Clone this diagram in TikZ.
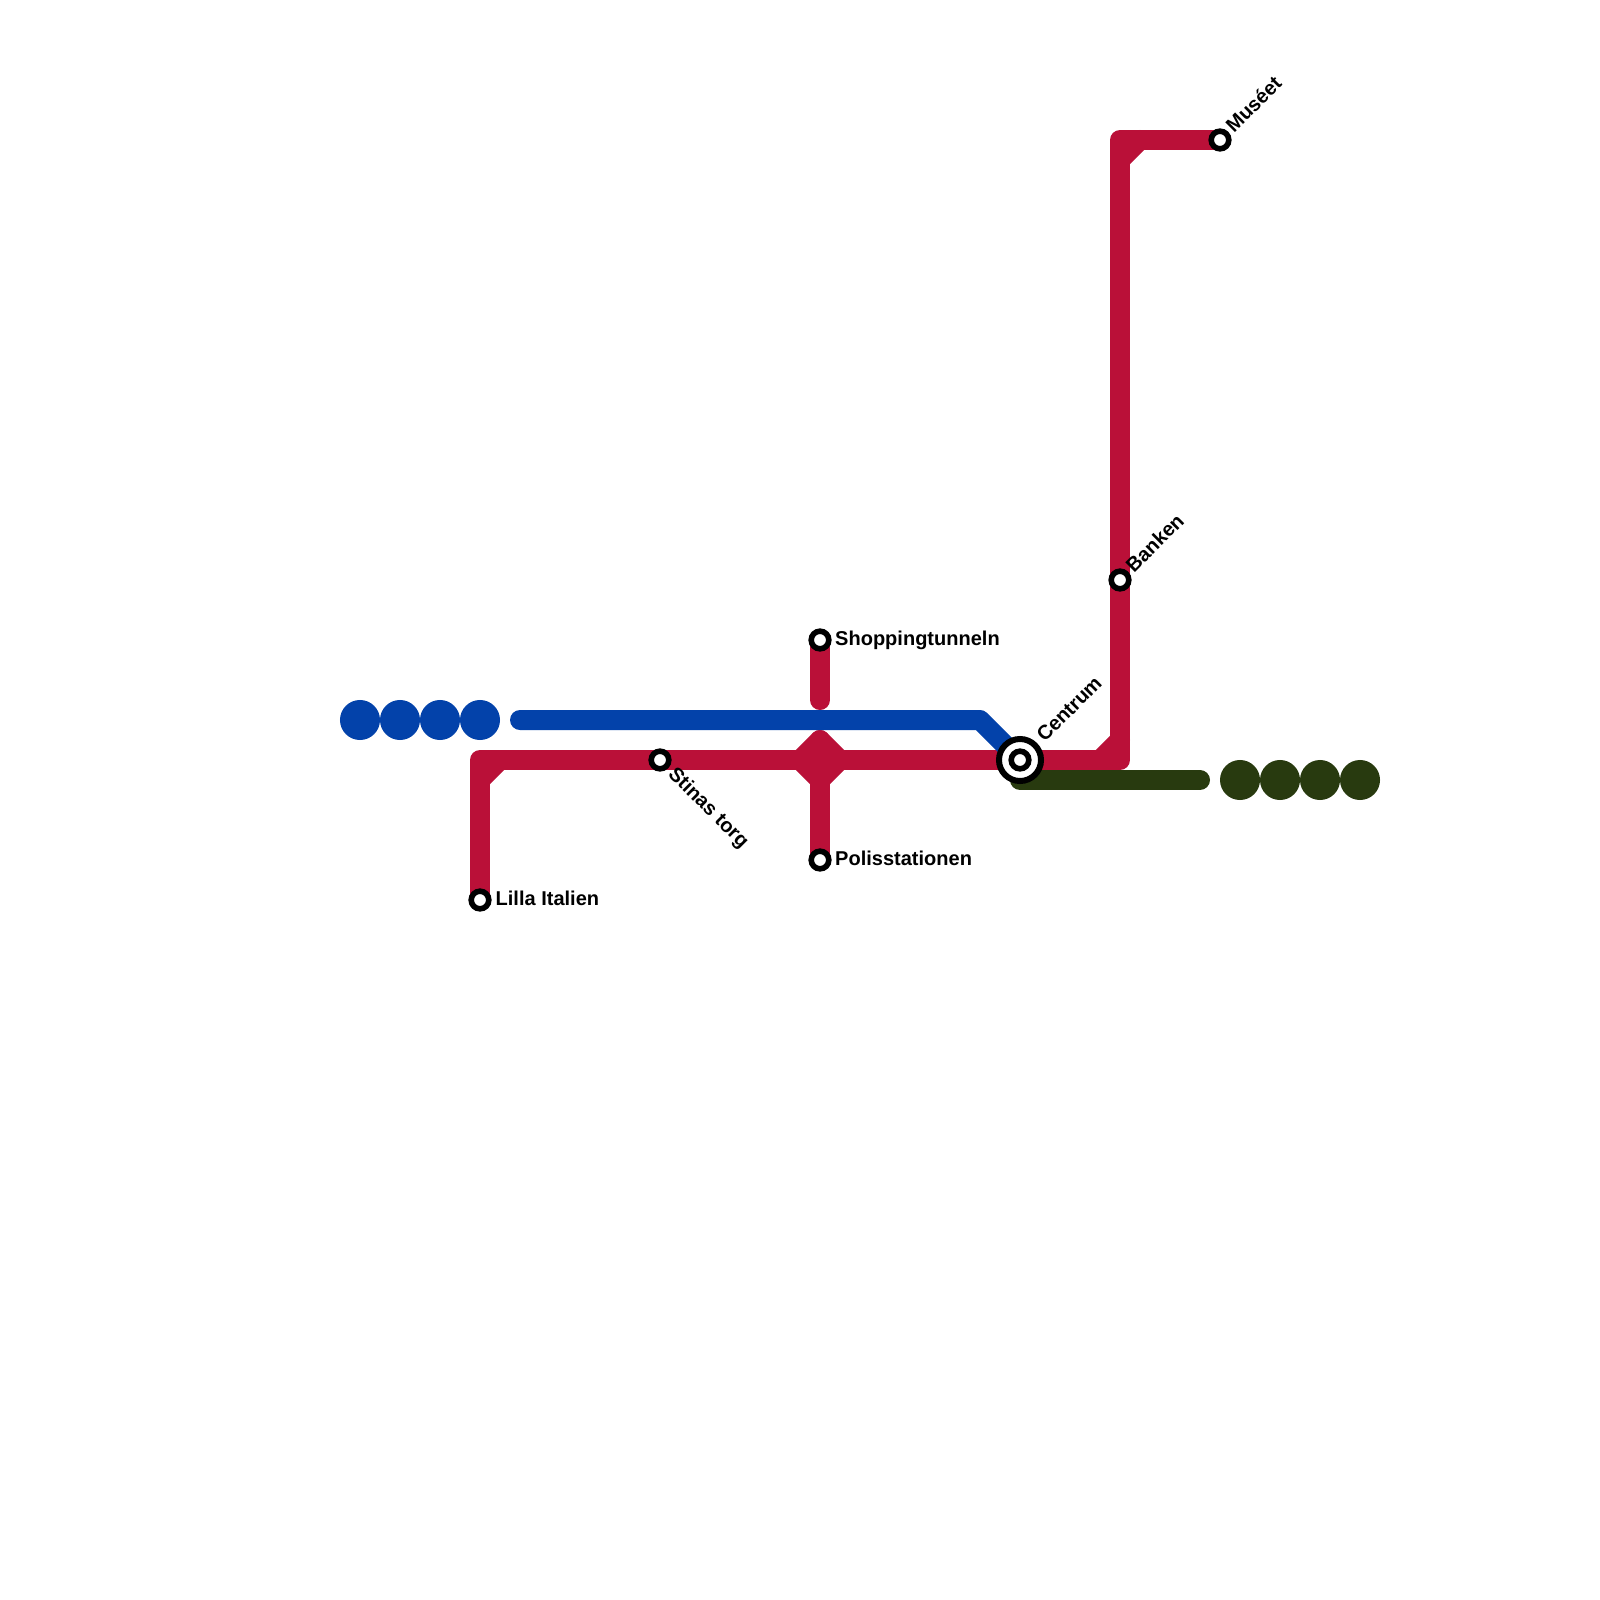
\documentclass[tikz,border=0pt]{standalone}
\usepackage{fontspec}
\setmainfont{Liberation Sans}
\usetikzlibrary{backgrounds}
\definecolor{lineRed}{RGB}{186,16,56}
\definecolor{lineBlue}{RGB}{3,66,170}
\definecolor{lineGreen}{RGB}{40,58,15}
\tikzset{
  metro/.style={line width=0.2cm, line cap=round, line join=round},
  station/.style={circle, draw=black, fill=white, line width=0.056cm, minimum size=0.176cm, inner sep=0pt},
  interchange/.style={circle, draw=black, fill=white, line width=0.06cm, minimum size=0.42cm, inner sep=0pt},
  linedot/.style={circle, minimum size=0.4cm, inner sep=0pt},
  stationlabel/.style={anchor=west, inner sep=0pt, font=\fontsize{5.69pt}{6pt}\selectfont\bfseries}
}
\begin{document}
\begin{tikzpicture}[x=0.01cm, y=-0.01cm]

\useasboundingbox (0,0) rectangle (1600,1600);

% Stations
\node[interchange] (centrum) at (1020,760) {};
\node[station] (centrumInner) at (1020,760) {};
\node[station] (lilla) at (480,900) {};
\node[station] (stinas) at (660,760) {};
\node[station] (shopping) at (820,640) {};
\node[station] (polis) at (820,860) {};
\node[station] (banken) at (1120,580) {};
\node[station] (museet) at (1220,140) {};

% Points de passage
\coordinate (cornerLilla) at (480,760);
\coordinate (cornerLillaA) at (480,780);
\coordinate (cornerLillaB) at (500,760);
\coordinate (tunnelEnd) at (820,700);
\coordinate (crossW) at (800,760);
\coordinate (crossN) at (820,740);
\coordinate (crossE) at (840,760);
\coordinate (crossS) at (820,780);
\coordinate (cornerBank) at (1120,760);
\coordinate (cornerBankA) at (1100,760);
\coordinate (cornerBankB) at (1120,740);
\coordinate (cornerTop) at (1120,140);
\coordinate (cornerTopA) at (1120,160);
\coordinate (cornerTopB) at (1140,140);
\coordinate (blueStart) at (520,720);
\coordinate (blueBend) at (980,720);
\coordinate (greenStart) at (1020,780);
\coordinate (greenEnd) at (1200,780);

% Lignes
\begin{scope}[on background layer]
\draw[metro, lineGreen] (greenStart) -- (greenEnd);
\draw[metro, lineRed] (lilla.center) -- (cornerLilla) -- (centrum.center) -- (cornerBank) -- (cornerTop) -- (museet.center);
\draw[metro, lineRed] (cornerLillaA) -- (cornerLillaB);
\draw[metro, lineRed] (cornerBankA) -- (cornerBankB);
\draw[metro, lineRed] (cornerTopA) -- (cornerTopB);
\draw[metro, lineRed] (shopping.center) -- (tunnelEnd);
\draw[metro, lineRed] (crossN) -- (polis.center);
\draw[metro, lineRed] (crossW) -- (crossN) -- (crossE) -- (crossS) -- cycle;
\draw[metro, lineBlue] (blueStart) -- (blueBend) -- (centrum.center);
\end{scope}

% Points de fin de ligne
\foreach \x [count=\i] in {360,400,440,480} {
  \node[linedot, fill=lineBlue] (blueDot\i) at (\x,720) {};
}
\foreach \x [count=\i] in {1240,1280,1320,1360} {
  \node[linedot, fill=lineGreen] (greenDot\i) at (\x,780) {};
}

% Noms des stations
\node[stationlabel] (lillaLabel) at (495,898.5) {Lilla Italien};
\node[stationlabel] (shoppingLabel) at (834.5,640.5) {Shoppingtunneln};
\node[stationlabel] (polisLabel) at (834.5,858.5) {Polisstationen};
\node[stationlabel, rotate=-45] (stinasLabel) at (670.5,771) {Stinas torg};
\node[stationlabel, rotate=45] (centrumLabel) at (1039.5,738.5) {Centrum};
\node[stationlabel, rotate=45] (bankenLabel) at (1128.5,569) {Banken};
\node[stationlabel, rotate=45] (museetLabel) at (1228.5,129) {Muséet};

\end{tikzpicture}
\end{document}
